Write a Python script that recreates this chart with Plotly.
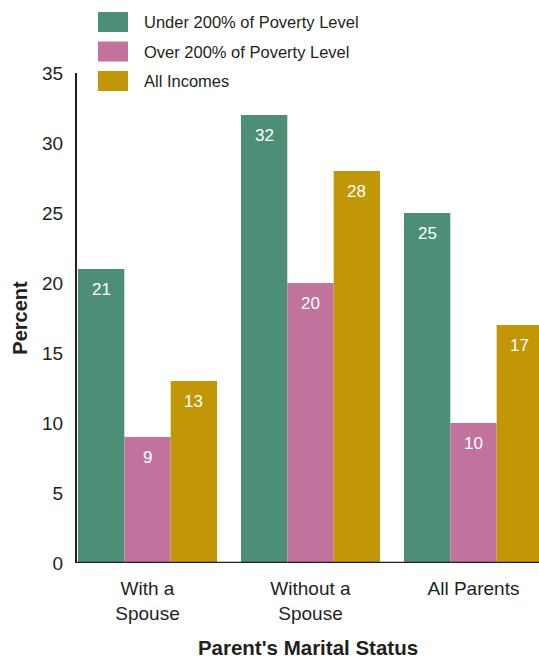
import plotly.graph_objects as go

categories = ["With a<br>Spouse", "Without a<br>Spouse", "All Parents"]
series_names = ["Under 200% of Poverty Level", "Over 200% of Poverty Level", "All Incomes"]
under_200 = [21, 32, 25]
over_200 = [9, 20, 10]
all_incomes = [13, 28, 17]
colors = ["#4d8f76", "#c1739d", "#c29707"]
y_ticks = [0, 5, 10, 15, 20, 25, 30, 35]

FONT = "Liberation Sans, Arial, Helvetica, sans-serif"
TXT = "#231f20"

W, H = 539, 659
ML, MR, MT, MB = 77, 0, 73, 96
X_RANGE = [-0.4325, 2.402]
BARGAP = 0.147

all_series = [under_200, over_200, all_incomes]

fig = go.Figure()
for name, vals, col in zip(series_names, all_series, colors):
    fig.add_trace(go.Bar(
        name=name, x=categories, y=vals, marker=dict(color=col, line=dict(width=0)),
        showlegend=False,
    ))

# value labels inside the top of each bar
px_per_cat = (W - ML - MR) / (X_RANGE[1] - X_RANGE[0])
bar_px = (1 - BARGAP) / len(all_series) * px_per_cat
for si, vals in enumerate(all_series):
    for cat, v in zip(categories, vals):
        fig.add_annotation(x=cat, y=v, text=str(v), showarrow=False,
                           xshift=(si - 1) * bar_px, yshift=-20,
                           xanchor="center", yanchor="middle",
                           font=dict(size=17, color="white", family=FONT))

# legend drawn manually (rectangular swatches)
for i, (name, col) in enumerate(zip(series_names, colors)):
    top = 12 + i * 29.5
    fig.add_shape(type="rect", xref="paper", yref="paper",
                  x0=(98 - ML) / (W - ML - MR), x1=(128 - ML) / (W - ML - MR),
                  y0=(H - MB - top) / (H - MT - MB), y1=(H - MB - top - 20) / (H - MT - MB),
                  line=dict(width=0), fillcolor=col, layer="above")
    fig.add_annotation(xref="paper", yref="paper", x=(142 - ML) / (W - ML - MR),
                       y=(H - MB - top - 10) / (H - MT - MB),
                       text=name, showarrow=False, xanchor="left", yanchor="middle",
                       font=dict(size=16.5, color=TXT, family=FONT))

fig.update_layout(
    width=W, height=H,
    margin=dict(l=ML, r=MR, t=MT, b=MB),
    paper_bgcolor="white", plot_bgcolor="white",
    barmode="group", bargap=BARGAP, bargroupgap=0,
    font=dict(family=FONT, color=TXT, size=17),
    xaxis=dict(range=X_RANGE, showgrid=False, zeroline=False,
               showline=False, ticks="", ticklabelstandoff=12, tickfont=dict(size=19, color=TXT),
               title=dict(text="<b>Parent's Marital Status</b>", font=dict(size=20.5, color=TXT), standoff=21)),
    yaxis=dict(range=[0, 35], tickvals=y_ticks, showgrid=False, zeroline=False,
               showline=True, linecolor="#231f20", linewidth=2, ticks="",
               ticklabelstandoff=8, tickfont=dict(size=19, color=TXT),
               title=dict(text="<b>Percent</b>", font=dict(size=20, color=TXT), standoff=9)),
)
fig.add_shape(type="line", xref="paper", yref="y", x0=0, x1=1, y0=0, y1=0,
              line=dict(color="#231f20", width=2.5), layer="above")

fig.write_html("out.html")
